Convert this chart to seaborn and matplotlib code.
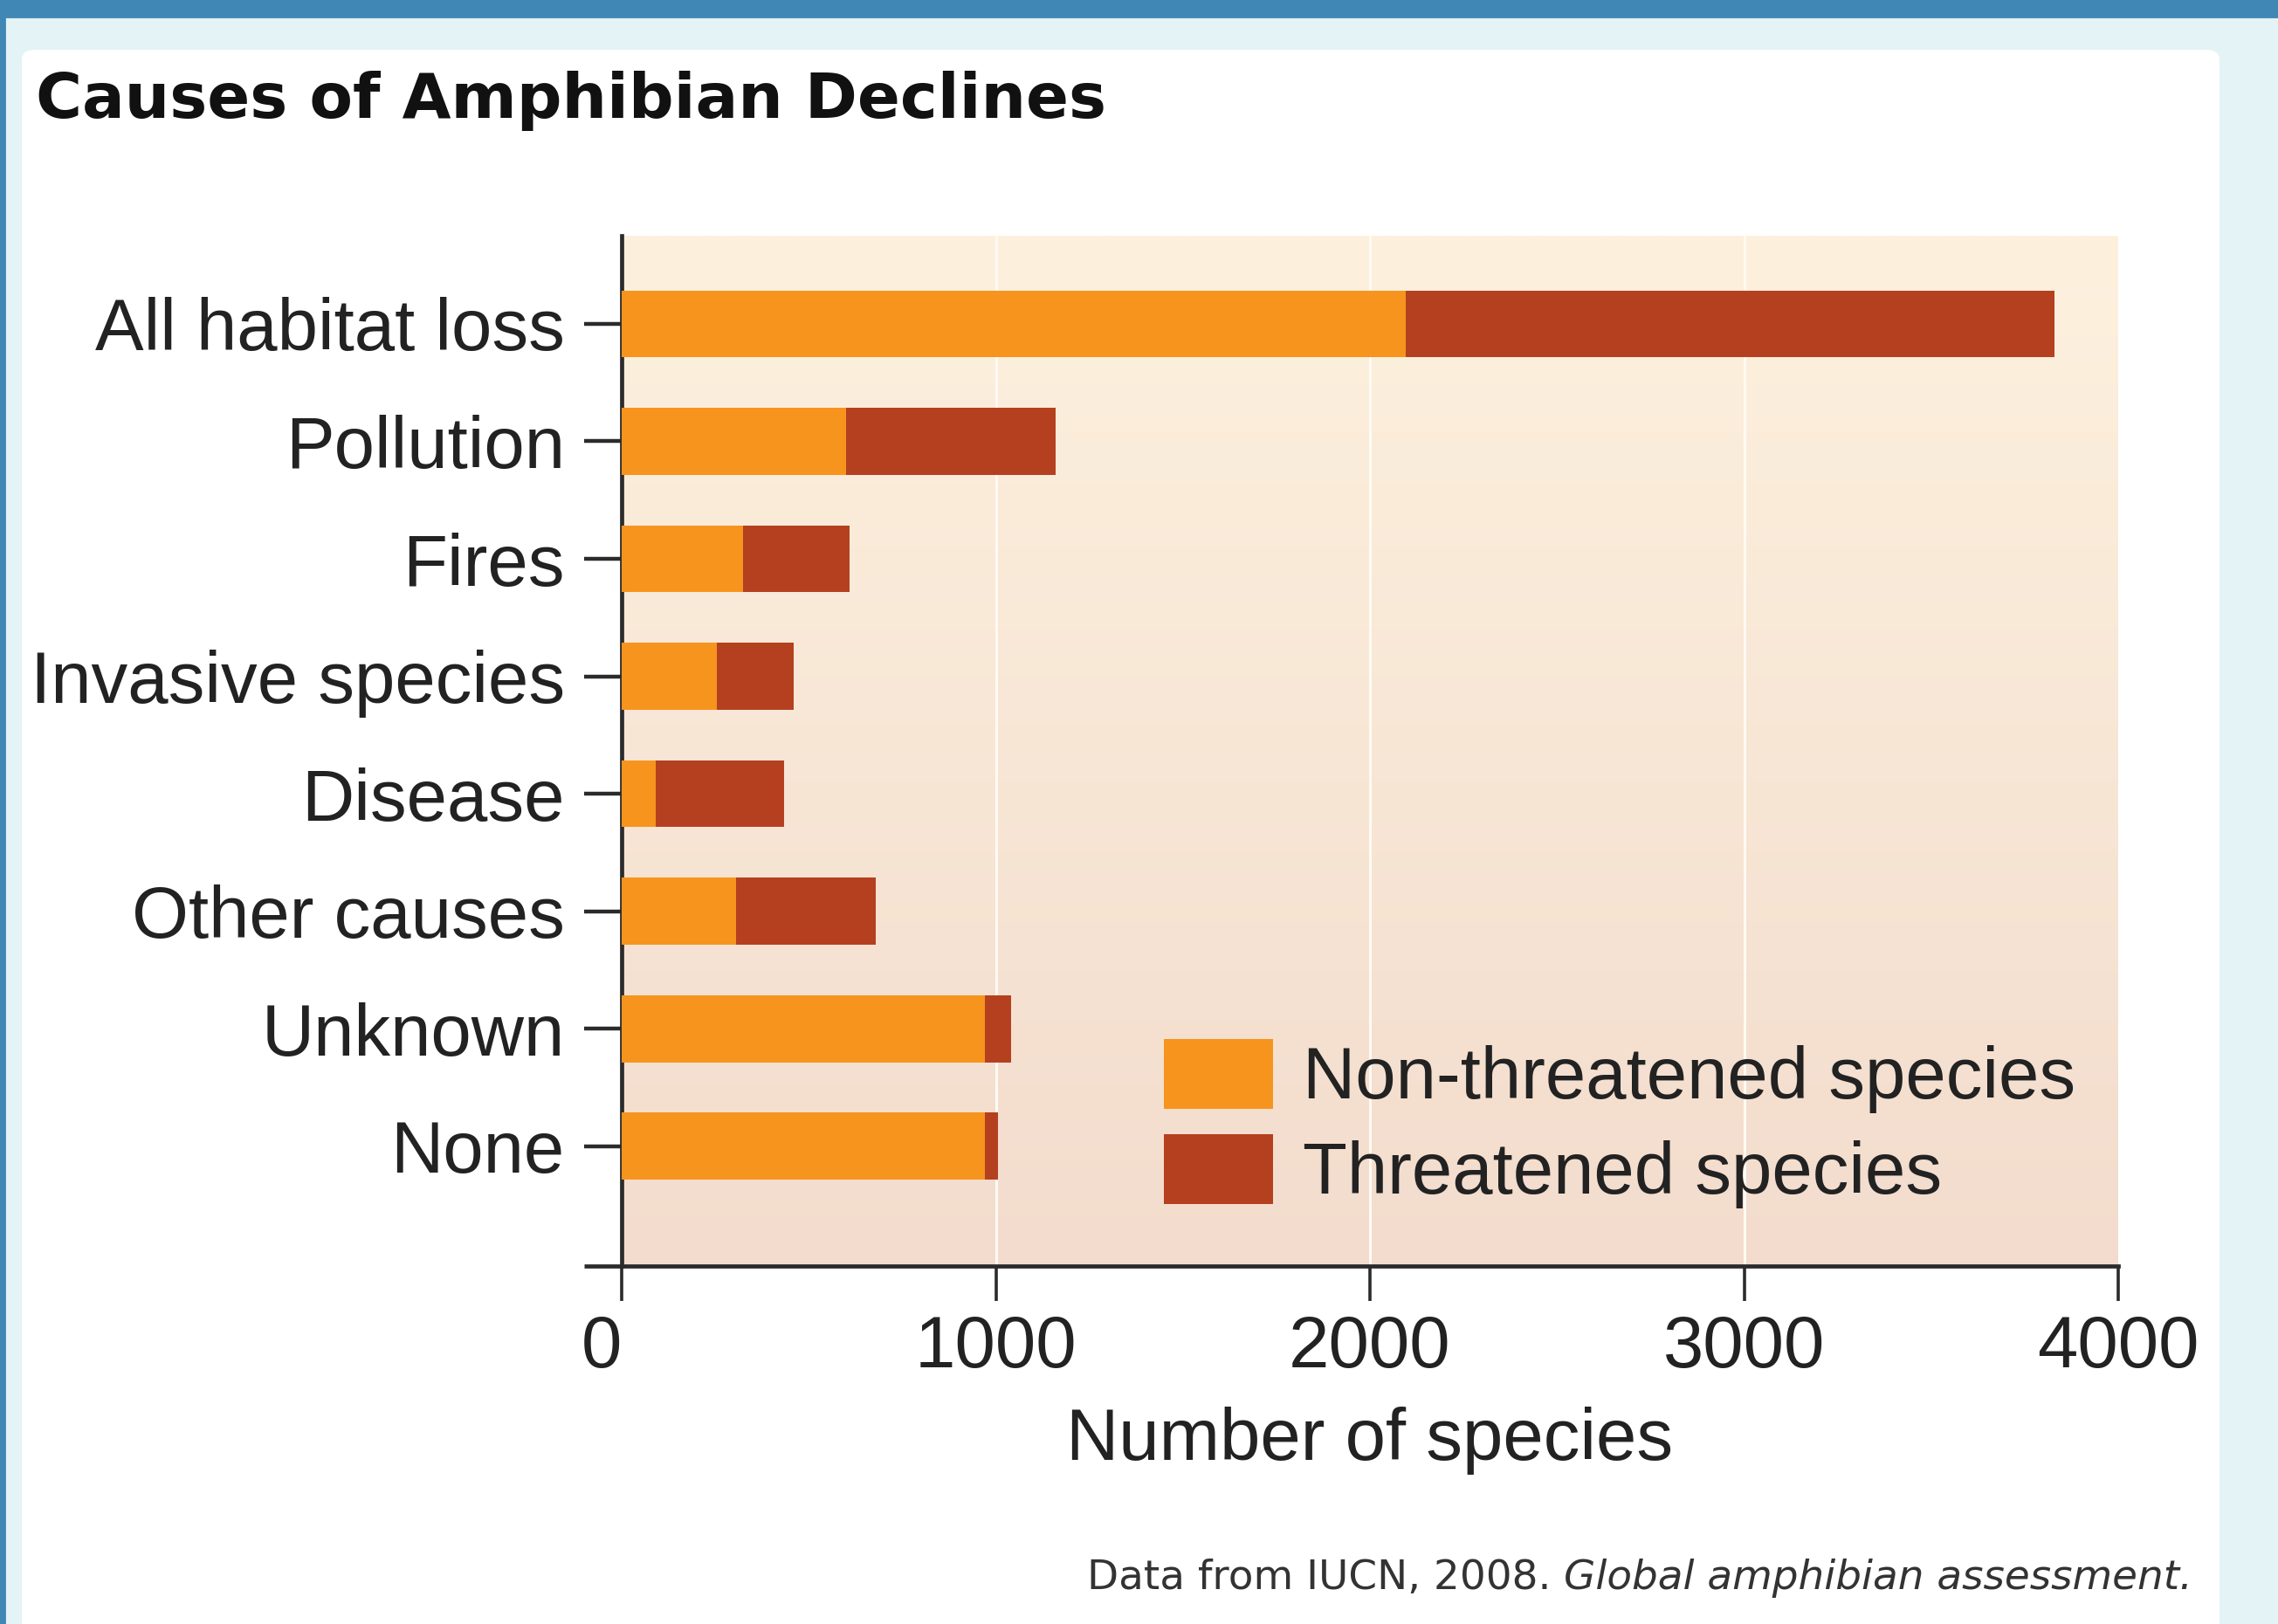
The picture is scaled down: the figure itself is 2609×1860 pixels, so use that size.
import numpy as np
import pandas as pd
import matplotlib
matplotlib.use("Agg")
import matplotlib.pyplot as plt
import seaborn as sns
from matplotlib.patches import Rectangle, FancyBboxPatch, Patch
from matplotlib.ticker import FixedLocator

# ---- data -------------------------------------------------------------
causes = ["All habitat loss", "Pollution", "Fires", "Invasive species",
          "Disease", "Other causes", "Unknown", "None"]
non_threatened = [2095, 600, 325, 255, 90, 305, 970, 970]
threatened = [1735, 560, 283, 205, 345, 375, 70, 35]
x_ticks = [0, 1000, 2000, 3000, 4000]
x_tick_labels = ["0", "1000", "2000", "3000", "4000"]
series_labels = ["Non-threatened species", "Threatened species"]

ORANGE = "#f7941d"
RUST = "#b5401f"
TEXT = "#222222"
AXIS = "#2b2b2b"

sns.set_theme(style="ticks")
plt.rcParams["font.family"] = ["Liberation Sans", "DejaVu Sans"]

W, H = 2609, 1860
fig = plt.figure(figsize=(W / 200, H / 200), dpi=200)
fig.patch.set_facecolor("#e4f3f5")

# page frame: blue band on top, thin blue strip on the left, white card
fig.add_artist(Rectangle((0, 1 - 19 / H), 1, 19 / H, transform=fig.transFigure,
                         color="#4187b5", zorder=0))
fig.add_artist(Rectangle((0, 0), 5 / W, 1 - 19 / H, transform=fig.transFigure,
                         color="#4187b5", zorder=0))
fig.add_artist(FancyBboxPatch((25 / W, -0.05), (2542 - 25) / W, (H - 57) / H + 0.05,
                              boxstyle="round,pad=0,rounding_size=0.006",
                              transform=fig.transFigure, fc="white", ec="none",
                              zorder=0))

ax = fig.add_axes([712 / W, 1 - 1450 / H, (2426 - 712) / W, (1450 - 270) / H])
ax.set_facecolor("none")

# warm vertical gradient behind the bars
grad = np.linspace(0, 1, 256).reshape(-1, 1)
top_c = np.array([253, 241, 222]) / 255
bot_c = np.array([243, 220, 205]) / 255
img = top_c[None, None, :] * (1 - grad[..., None]) + bot_c[None, None, :] * grad[..., None]
ax.imshow(img, extent=(0, 1, 0, 1), transform=ax.transAxes, aspect="auto",
          zorder=0, interpolation="bilinear")

for v in x_ticks[1:-1]:
    ax.axvline(v, color="#fffaf2", lw=1.1, zorder=1)

df = pd.DataFrame({"cause": causes, "non": non_threatened, "thr": threatened})
df["total"] = df["non"] + df["thr"]

sns.barplot(data=df, x="total", y="cause", orient="h", color=RUST, width=0.57,
            saturation=1, linewidth=0, ax=ax, zorder=3)
sns.barplot(data=df, x="non", y="cause", orient="h", color=ORANGE, width=0.57,
            saturation=1, linewidth=0, ax=ax, zorder=4)

ax.set_xlim(0, 4000)
ax.set_ylim(8.02, -0.75)

sns.despine(ax=ax)
for side in ("left", "bottom"):
    ax.spines[side].set_color(AXIS)
    ax.spines[side].set_linewidth(1.7)

ax.set_xticks(x_ticks)
ax.set_xticklabels(x_tick_labels)
ax.tick_params(axis="x", length=14.4, width=1.3, pad=5.5, labelsize=30,
               color=AXIS, labelcolor=TEXT, bottom=True)
ax.tick_params(axis="y", length=15.5, width=1.6, pad=8, labelsize=30,
               color=AXIS, labelcolor=TEXT, left=True)
ax.yaxis.set_minor_locator(FixedLocator([8.02]))
ax.tick_params(axis="y", which="minor", length=15.5, width=1.7, color=AXIS, left=True)
ax.get_xticklabels()[0].set_ha("right")

ax.set_ylabel("")
ax.set_xlabel("Number of species", fontsize=30, color=TEXT, labelpad=10)

handles = [Patch(facecolor=ORANGE, edgecolor="none"),
           Patch(facecolor=RUST, edgecolor="none")]
ax.legend(handles, series_labels, loc="upper left",
          bbox_to_anchor=(1333 / W, 1 - 1190 / H), bbox_transform=fig.transFigure,
          frameon=False, fontsize=30, handlelength=1.5, handleheight=1.1,
          handletextpad=0.41, labelspacing=0.28, borderpad=0, borderaxespad=0,
          labelcolor=TEXT)

fig.text(41 / W, 1 - 135 / H, "Causes of Amphibian Declines",
         fontfamily="DejaVu Sans", fontweight="bold", fontsize=26,
         ha="left", va="baseline", color="#111111")

# source line: plain part followed by italic title
renderer = fig.canvas.get_renderer()
src_plain = fig.text(1245 / W, 1 - 1820 / H, "Data from IUCN, 2008. ",
                     fontfamily="DejaVu Sans", fontsize=16.9, ha="left",
                     va="baseline", color="#333333")
bb = src_plain.get_window_extent(renderer=renderer)
fig.text(bb.x1 / fig.bbox.width, 1 - 1820 / H, "Global amphibian assessment.",
         fontfamily="DejaVu Sans", fontstyle="italic", fontsize=16.9, ha="left",
         va="baseline", color="#333333")

fig.savefig("out.png", dpi=200, facecolor=fig.get_facecolor())
